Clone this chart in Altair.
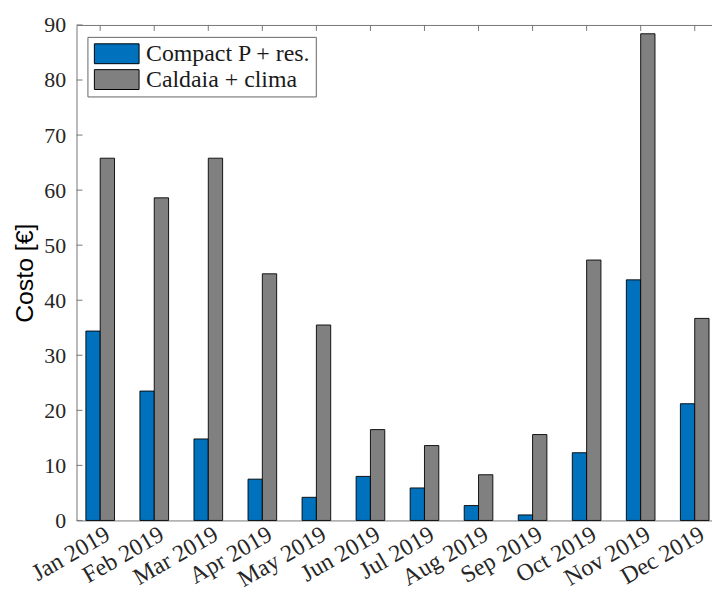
import altair as alt
import pandas as pd

months = ["Jan 2019", "Feb 2019", "Mar 2019", "Apr 2019", "May 2019", "Jun 2019",
          "Jul 2019", "Aug 2019", "Sep 2019", "Oct 2019", "Nov 2019", "Dec 2019"]
series = ["Compact P + res.", "Caldaia + clima"]
compact = [34.4, 23.5, 14.8, 7.5, 4.2, 8.0, 5.9, 2.7, 1.0, 12.3, 43.7, 21.2]
caldaia = [65.8, 58.6, 65.8, 44.8, 35.5, 16.5, 13.6, 8.3, 15.6, 47.3, 88.4, 36.7]
y_ticks = [0, 10, 20, 30, 40, 50, 60, 70, 80, 90]
colors = ["#0072BD", "#808080"]

rows = []
for m, a, b in zip(months, compact, caldaia):
    rows.append({"month": m, "series": series[0], "cost": a})
    rows.append({"month": m, "series": series[1], "cost": b})
df = pd.DataFrame(rows)

AX = "#777777"
SERIF = "Liberation Serif"

x_scale = alt.Scale(domain=months, paddingInner=0.47, paddingOuter=0.114, align=0.76)
y_scale = alt.Scale(domain=[0, 90], nice=False, zero=True)

y_axis = alt.Axis(title="Costo [€]", values=y_ticks, ticks=False, grid=False,
                  domainColor=AX, domainWidth=1, labelFont=SERIF, labelFontSize=22,
                  labelColor="#262626", labelPadding=11,
                  titleFont="Liberation Sans", titleFontSize=25, titleFontWeight="normal",
                  titleColor="black", titlePadding=6)

bars = alt.Chart(df).mark_bar(stroke="black", strokeWidth=0.9).encode(
    x=alt.X("month:N", sort=months, scale=x_scale,
            axis=alt.Axis(orient="bottom", title=None, labelAngle=330, labelAlign="right",
                          labelBaseline="middle", labelPadding=12, labelOffset=8, ticks=False,
                          labelOverlap=False,
                          domainColor=AX, domainWidth=1, labelFont=SERIF, labelFontSize=24,
                          labelColor="#262626")),
    xOffset=alt.XOffset("series:N", sort=series,
                        scale=alt.Scale(domain=series, paddingInner=0, paddingOuter=0)),
    y=alt.Y("cost:Q", scale=y_scale, axis=y_axis),
    color=alt.Color("series:N", sort=series, scale=alt.Scale(domain=series, range=colors),
                    legend=alt.Legend(title=None, orient="none", legendX=11, legendY=12,
                                      direction="vertical",
                                      symbolType="M-2.25,-1L2.25,-1L2.25,1L-2.25,1Z",
                                      symbolSize=400, symbolOffset=12.5,
                                      symbolStrokeColor="black",
                                      symbolStrokeWidth=1, symbolOpacity=1,
                                      labelFont=SERIF, labelFontSize=24, labelColor="#1a1a1a",
                                      labelOffset=17.5, labelLimit=400,
                                      fillColor="white", strokeColor="#666666",
                                      padding=5, rowPadding=2)),
)

top_ticks = alt.Chart(pd.DataFrame({"month": months})).mark_rule(color=AX, strokeWidth=1).encode(
    x=alt.X("month:N", sort=months, scale=x_scale,
            axis=alt.Axis(orient="top", labels=False, ticks=False, title=None,
                          domainColor=AX, domainWidth=1)),
    y=alt.value(0),
    y2=alt.value(6),
)

left_ticks = alt.Chart(pd.DataFrame({"cost": y_ticks})).mark_rule(color=AX, strokeWidth=1).encode(
    y=alt.Y("cost:Q", scale=y_scale, axis=y_axis),
    x=alt.value(0),
    x2=alt.value(6),
)

chart = alt.layer(bars, top_ticks, left_ticks).resolve_axis(x="independent").properties(
    width=640, height=499,
    padding={"left": 5, "top": 4, "right": 0, "bottom": 0},
).configure_view(stroke=None)

chart.save("out.html", embed_options={"renderer": "svg", "actions": False})
